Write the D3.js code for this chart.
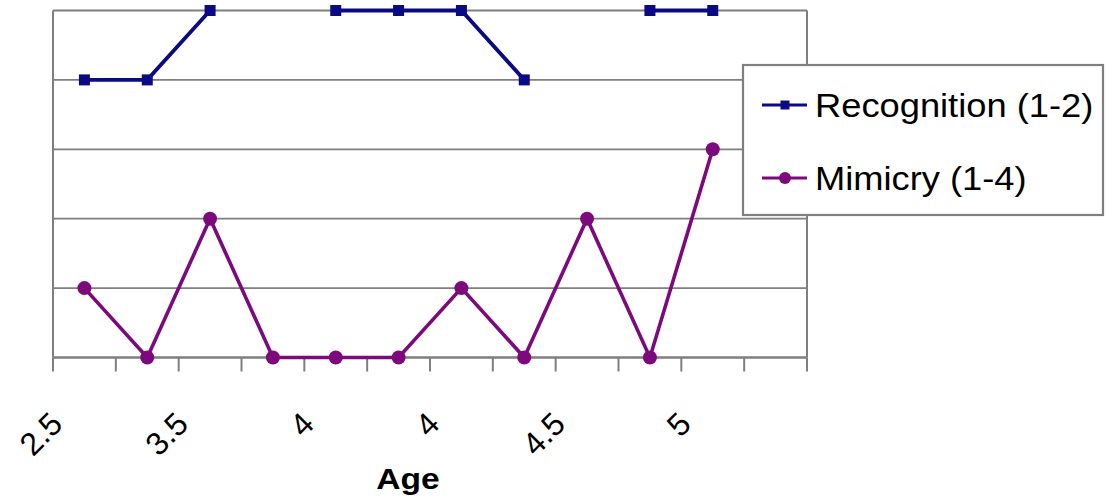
<!DOCTYPE html>
<html>
<head>
<meta charset="UTF-8">
<title>Recognition and Mimicry by Age</title>
<script src="https://d3js.org/d3.v7.min.js"></script>
<style>
    body { margin: 0; background: #fff; }
    svg { display: block; font-family: "Liberation Sans", Arial, sans-serif; }
</style>
</head>
<body>
<svg id="chart" width="1106" height="504"></svg>
<script>
// 12 age categories, only every second label is drawn (as in the original)
var tickLabels = ["2.5", "", "3.5", "", "4", "", "4", "", "4.5", "", "5", ""];
var recognition = [4, 4, 5, null, 5, 5, 5, 4, null, 5, 5, null];
var mimicry = [1, 0, 2, 0, 0, 0, 1, 0, 2, 0, 3, null];
var seriesNames = ["Recognition (1-2)", "Mimicry (1-4)"];

var svg = d3.select("#chart");
var plotL = 53, plotR = 807, plotT = 10.5, plotB = 357.5;
var grey = "#7f7f7f";

var x = d3.scaleBand().domain(d3.range(tickLabels.length)).range([plotL, plotR]);
var y = d3.scaleLinear().domain([0, 5]).range([plotB, plotT]);

// gridlines
svg.append("g").selectAll("line")
    .data(y.ticks(5))
    .enter().append("line")
    .attr("x1", plotL).attr("x2", plotR)
    .attr("y1", function (d) { return y(d); })
    .attr("y2", function (d) { return y(d); })
    .attr("stroke", grey).attr("stroke-width", 1.8);

// plot border left/right
svg.append("line").attr("x1", plotL).attr("x2", plotL).attr("y1", plotT).attr("y2", plotB)
    .attr("stroke", grey).attr("stroke-width", 2);
svg.append("line").attr("x1", plotR).attr("x2", plotR).attr("y1", plotT).attr("y2", plotB)
    .attr("stroke", grey).attr("stroke-width", 2);

// x axis with ticks between categories
var xAxis = svg.append("g").attr("transform", "translate(0," + plotB + ")");
xAxis.append("line").attr("x1", plotL).attr("x2", plotR)
    .attr("stroke", grey).attr("stroke-width", 2);
xAxis.selectAll("line.tick")
    .data(d3.range(tickLabels.length + 1))
    .enter().append("line").attr("class", "tick")
    .attr("x1", function (d) { return plotL + d * x.step(); })
    .attr("x2", function (d) { return plotL + d * x.step(); })
    .attr("y1", 0).attr("y2", 14)
    .attr("stroke", grey).attr("stroke-width", 2);

svg.append("g").selectAll("text")
    .data(tickLabels)
    .enter().append("text")
    .attr("transform", function (d, i) {
        return "translate(" + (x(i) + x.bandwidth() / 2 - 20) + ",426) rotate(-45)";
    })
    .attr("text-anchor", "end")
    .attr("font-size", 32)
    .attr("fill", "#000")
    .text(function (d) { return d; });

svg.append("text")
    .attr("transform", "translate(408,489) scale(1.12,1)")
    .attr("text-anchor", "middle")
    .attr("font-size", 30).attr("font-weight", "bold")
    .attr("fill", "#000")
    .text("Age");

// series
var cx = function (d, i) { return x(i) + x.bandwidth() / 2; };
var line = d3.line()
    .defined(function (d) { return d != null; })
    .x(cx)
    .y(function (d) { return y(d); });

var recColor = "#0a0a84", mimColor = "#7d0a7d";

svg.append("path").datum(recognition)
    .attr("d", line).attr("fill", "none")
    .attr("stroke", recColor).attr("stroke-width", 3.8);
svg.append("g").selectAll("rect")
    .data(recognition.map(function (v, i) { return {v: v, i: i}; }).filter(function (d) { return d.v != null; }))
    .enter().append("rect")
    .attr("x", function (d) { return cx(d.v, d.i) - 5.5; })
    .attr("y", function (d) { return y(d.v) - 5.5; })
    .attr("width", 11).attr("height", 11)
    .attr("fill", recColor);

svg.append("path").datum(mimicry)
    .attr("d", line).attr("fill", "none")
    .attr("stroke", mimColor).attr("stroke-width", 3.6);
svg.append("g").selectAll("circle")
    .data(mimicry.map(function (v, i) { return {v: v, i: i}; }).filter(function (d) { return d.v != null; }))
    .enter().append("circle")
    .attr("cx", function (d) { return cx(d.v, d.i); })
    .attr("cy", function (d) { return y(d.v); })
    .attr("r", 7)
    .attr("fill", mimColor);

// legend
var legend = svg.append("g");
legend.append("rect")
    .attr("x", 743).attr("y", 65).attr("width", 360).attr("height", 150)
    .attr("fill", "#fff").attr("stroke", grey).attr("stroke-width", 2.2);

var rows = [105, 178];
seriesNames.forEach(function (name, k) {
    var col = k === 0 ? recColor : mimColor;
    legend.append("line")
        .attr("x1", 762).attr("x2", 807).attr("y1", rows[k]).attr("y2", rows[k])
        .attr("stroke", col).attr("stroke-width", 3);
    if (k === 0) {
        legend.append("rect").attr("x", 780.5).attr("y", rows[k] - 4.5)
            .attr("width", 9).attr("height", 9).attr("fill", col);
    } else {
        legend.append("circle").attr("cx", 785).attr("cy", rows[k]).attr("r", 6).attr("fill", col);
    }
    legend.append("text")
        .attr("transform", "translate(815," + (rows[k] + 12) + ") scale(1.1,1)")
        .attr("font-size", 33).attr("fill", "#000")
        .text(name);
});
</script>
</body>
</html>
